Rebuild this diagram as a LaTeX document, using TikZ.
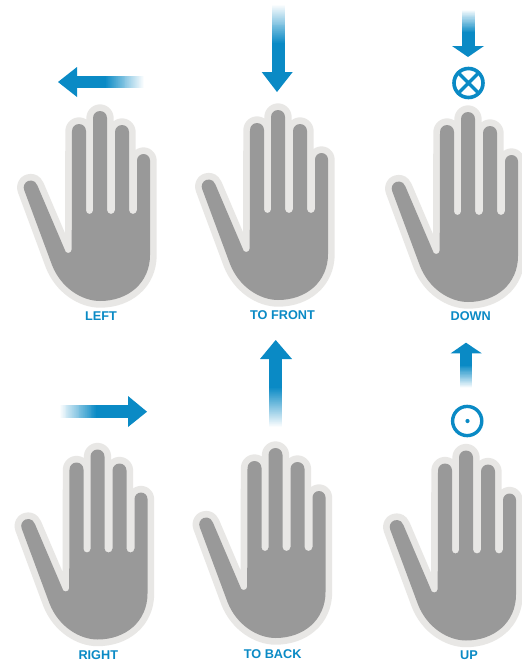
\documentclass[tikz,border=0pt]{standalone}
\usepackage{fontspec}
\setmainfont{Liberation Sans}
\definecolor{blu}{HTML}{0A8AC5}
\definecolor{halo}{HTML}{E8E7E5}
\definecolor{palm}{HTML}{999999}
\tikzset{
  handshape/.pic={
    \def\handpath{
      (24.26,190.2) arc[start angle=157,end angle=345,radius=7]
      -- (64.7,249.5) arc[start angle=180,end angle=0,radius=3.5] -- (72,131)
      arc[start angle=180,end angle=360,radius=7] -- (86,210.5)
      arc[start angle=180,end angle=0,radius=3.5] -- (93,118)
      arc[start angle=180,end angle=360,radius=7] -- (107,210)
      arc[start angle=180,end angle=0,radius=4] -- (115,132)
      arc[start angle=180,end angle=360,radius=7] -- (129,210)
      arc[start angle=180,end angle=0,radius=4] -- (137,160.5)
      arc[start angle=180,end angle=360,radius=6.5] -- (150,255)
      .. controls (150,283) and (128,301) .. (100,301)
      .. controls (82,301) and (61,288) .. (52,265)
      -- cycle}
    \draw[halo,line width=13.4pt,line join=round] \handpath;
    \fill[palm] \handpath;
  },
  hlabel/.style={text=blu,font=\bfseries\fontsize{12.7}{13}\selectfont,inner sep=0pt,anchor=center}
}
% fading bars: each strip runs on to the solid end, so no seams appear
\newcommand{\hfade}[4]{% x white, x solid, y top, y bottom
  \foreach \i in {1,...,40}{%
    \pgfmathsetmacro\xx{#1+(#2-#1)*(\i-1)/40}%
    \pgfmathtruncatemacro\pp{\i*2.5}%
    \fill[blu!\pp!white] (\xx,#3) rectangle (#2,#4);}}
\newcommand{\vfade}[4]{% y white, y solid, x left, x right
  \foreach \i in {1,...,40}{%
    \pgfmathsetmacro\yy{#1+(#2-#1)*(\i-1)/40}%
    \pgfmathtruncatemacro\pp{\i*2.5}%
    \fill[blu!\pp!white] (#3,\yy) rectangle (#4,#2);}}
\begin{document}
\begin{tikzpicture}[x=1pt,y=-1pt]
\useasboundingbox (0,0) rectangle (522,664);
\fill[white] (0,0) rectangle (522,664);
\pic at (0,0) {handshape};
\pic at (178,-1) {handshape};
\pic at (368,1) {handshape};
\pic at (-2.5,338.5) {handshape};
\pic at (175.5,337) {handshape};
\pic at (366,339.5) {handshape};
\node[hlabel] (l1) at (101,316) {LEFT};
\node[hlabel] (l2) at (282.5,315) {TO FRONT};
\node[hlabel] (l3) at (470.7,316) {DOWN};
\node[hlabel] (l4) at (98.3,655) {RIGHT};
\node[hlabel] (l5) at (272.7,654) {TO BACK};
\node[hlabel] (l6) at (469,655) {UP};
% left
\hfade{144}{105}{76}{88}
\fill[blu] (76,76) rectangle (105.2,88);
\fill[blu] (58,82) -- (77,67) -- (77,97) -- cycle;
% to front
\vfade{5}{44}{272}{285}
\fill[blu] (272,43.8) rectangle (285,73);
\fill[blu] (277,92) -- (261.7,72) -- (292.7,72) -- cycle;
% down
\vfade{10}{33}{462}{475}
\fill[blu] (462,32.8) rectangle (475,47);
\fill[blu] (468,57) -- (452,46) -- (484,46) -- cycle;
\draw[blu,line width=3.6pt] (468.5,83) circle (14.5);
\draw[blu,line width=3.4pt] (458.2,72.7) -- (478.8,93.3) (478.8,72.7) -- (458.2,93.3);
% right
\hfade{60}{97}{405}{418}
\fill[blu] (96.8,405) rectangle (129,418);
\fill[blu] (147,411.7) -- (128,396) -- (128,427) -- cycle;
% to back
\vfade{427}{387}{269}{281.7}
\fill[blu] (269,358) rectangle (281.7,387.2);
\fill[blu] (275.7,340) -- (260,359) -- (292,359) -- cycle;
% up
\vfade{388}{365}{460}{472.3}
\fill[blu] (460,352) rectangle (472.3,365.2);
\fill[blu] (466,342.7) -- (450.7,353.3) -- (481.7,353.3) -- cycle;
\draw[blu,line width=3.4pt] (467.2,421) circle (14.6);
\fill[blu] (467.5,421) circle (2.1);
\end{tikzpicture}
\end{document}
